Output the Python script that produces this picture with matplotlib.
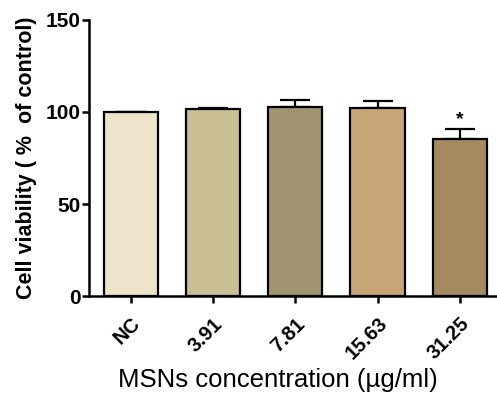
import matplotlib
matplotlib.use("Agg")
import matplotlib.pyplot as plt
import numpy as np

# Values
groups = ["NC", "3.91", "7.81", "15.63", "31.25"]
viability = [100.0, 101.6, 102.5, 102.0, 85.3]
sem = [0.0, 0.6, 3.8, 4.1, 5.6]
bar_colors = ["#EFE4CA", "#C9BE94", "#A19571", "#C8A576", "#A58961"]
significant = [False, False, False, False, True]

plt.rcParams["font.family"] = ["Liberation Sans", "DejaVu Sans"]

fig = plt.figure(figsize=(4.97, 3.98), dpi=100)
ax = fig.add_axes([0.179, 0.256, 0.821, 0.694])

x = np.arange(len(groups))
ax.bar(x, viability, width=0.66, color=bar_colors, edgecolor="black",
       linewidth=1.6, zorder=2)
lower = np.zeros(len(sem))
ax.errorbar(x, viability, yerr=[lower, sem], fmt="none", ecolor="black",
            elinewidth=1.6, capsize=10.5, capthick=1.6, zorder=1)

for xi, v, e, sig in zip(x, viability, sem, significant):
    if sig:
        ax.text(xi, v + e + 0.3, "*", ha="center", va="bottom",
                fontsize=14, fontweight="bold")

ax.set_ylim(0, 150)
ax.set_yticks([0, 50, 100, 150])
ax.set_xlim(-0.507, 4.45)
ax.set_xticks(x)
ax.set_xticklabels(groups, rotation=45, ha="right", rotation_mode="anchor",
                   fontsize=14.5, fontweight="bold")
for lbl in ax.get_yticklabels():
    lbl.set_fontweight("bold")
    lbl.set_fontsize(15)

ax.spines["top"].set_visible(False)
ax.spines["right"].set_visible(False)
ax.spines["left"].set_linewidth(1.8)
ax.spines["bottom"].set_linewidth(1.8)
ax.tick_params(axis="y", direction="out", width=1.8, length=5, pad=1)
ax.tick_params(axis="x", direction="out", width=1.8, length=5, pad=8)

ax.set_ylabel("Cell viability ( %  of control)", fontsize=15.5,
              fontweight="bold", labelpad=6)
ax.set_xlabel("MSNs concentration (\u00b5g/ml)", fontsize=18.5)
ax.xaxis.set_label_coords(0.462, -0.262)

fig.savefig("out.png", dpi=100)
